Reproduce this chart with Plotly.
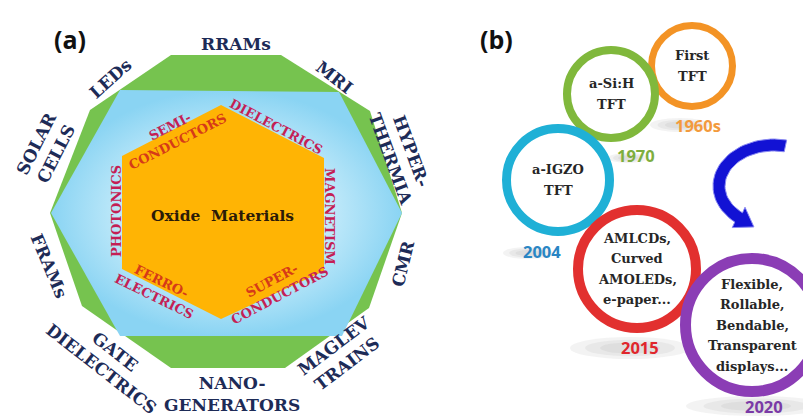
import math
import plotly.graph_objects as go

W, H = 811, 417

# ---------------- data (text content) ----------------
panel_labels = ["(a)", "(b)"]
core_label = "Oxide  Materials"
property_lines = [["SEMI-", "CONDUCTORS"], ["DIELECTRICS"], ["MAGNETISM"],
                  ["SUPER-", "CONDUCTORS"], ["FERRO-", "ELECTRICS"], ["PHOTONICS"]]
application_lines = [["RRAMs"], ["MRI"], ["HYPER-", "THERMIA"], ["CMR"],
                     ["MAGLEV", "TRAINS"], ["NANO-", "GENERATORS"],
                     ["GATE", "DIELECTRICS"], ["FRAMs"], ["SOLAR", "CELLS"], ["LEDs"]]
tft_milestones = [["First", "TFT"], ["a-Si:H", "TFT"], ["a-IGZO", "TFT"],
                  ["AMLCDs,", "Curved", "AMOLEDs,", "e-paper..."],
                  ["Flexible,", "Rollable,", "Bendable,", "Transparent", "displays..."]]
tft_years = ["1960s", "1970", "2004", "2015", "2020"]

# ---------------- layout / styles ----------------
NAVY = "#1d2b57"
CRIMSON = "#c41f55"
REDOR = "#d63a18"
SERIF = "DejaVu Serif"

outer_poly = [(163, 47), (273, 47), (362, 103), (394, 205), (361, 300), (277, 360),
              (163, 360), (74, 298), (42, 205), (82, 102)]
blue_poly = [(112, 82), (331, 84), (394, 205), (334, 328), (112, 328), (43, 205)]
hex_poly = [(213, 97), (316, 150), (316, 263), (213, 311), (114, 261), (114, 148)]

app_pos = [(228, 36, 0), (326, 69, 38), (393, 147, 70), (395, 256, -76), (332, 347, -37),
           (224, 386, 0), (100, 352, 38), (41, 258, 67), (38, 141, -63), (102, 71, -42)]
prop_pos = [(166, 126, -27), (268, 118, 28), (322, 208, 90), (268, 280, -28),
            (150, 281, 26), (108, 203, -90)]
prop_colors = [[CRIMSON, REDOR], [CRIMSON], [CRIMSON], [REDOR, CRIMSON],
               [REDOR, CRIMSON], [CRIMSON]]

ring_geom = [(684, 58, 44, 7), (603, 86, 48, 8), (550, 172, 56, 9),
             (629, 261, 64, 10), (744, 317, 72, 11)]
ring_colors = ["#f39325", "#80b83c", "#1fb0d6", "#e2302f", "#8b3db5"]
year_colors = ["#f39a3c", "#7eae3e", "#2a86c4", "#e0262c", "#7a3aa6"]
year_pos = [(690, 117), (628, 147), (534, 243), (632, 339), (756, 398)]
shadow_geom = [(672, 117, 60, 14), (620, 150, 40, 10), (520, 245, 50, 12),
               (622, 340, 120, 22), (748, 398, 140, 20)]

fig = go.Figure()


def add_poly(pts, fill, grad=None, line_color=None, line_width=0):
    xs = [p[0] for p in pts] + [pts[0][0]]
    ys = [p[1] for p in pts] + [pts[0][1]]
    kw = dict(x=xs, y=ys, mode="lines", fill="toself", fillcolor=fill,
              line=dict(width=line_width, color=line_color or fill),
              hoverinfo="skip", showlegend=False)
    if grad is not None:
        kw["fillgradient"] = grad
    fig.add_trace(go.Scatter(**kw))


# panel (a) shapes
add_poly(outer_poly, "#76c34f")
add_poly(blue_poly, "#9ad9f4",
         grad=dict(type="radial", colorscale=[[0, "#f2fbff"], [0.5, "#cdeefb"], [1, "#8ad4f3"]]))
add_poly(hex_poly, "#ffb404")

# curved blue arrow (panel b)
cx, cy = 766, 178
ro = (61, 47)
ri = (49, 35)
t0, t1 = 282, 130
n = 40
outer = []
inner = []
for i in range(n + 1):
    t = math.radians(t0 + (t1 - t0) * i / n)
    outer.append((cx + ro[0] * math.cos(t), cy + ro[1] * math.sin(t)))
    inner.append((cx + ri[0] * math.cos(t), cy + ri[1] * math.sin(t)))
te = math.radians(t1)
mx = cx + (ro[0] + ri[0]) / 2 * math.cos(te)
my = cy + (ro[1] + ri[1]) / 2 * math.sin(te)
dx, dy = (ro[0] + ri[0]) / 2 * math.sin(te), -(ro[1] + ri[1]) / 2 * math.cos(te)
L = math.hypot(dx, dy)
dx, dy = dx / L, dy / L
px, py = -dy, dx
head = [(mx + px * 12, my + py * 12), (mx + dx * 18, my + dy * 18), (mx - px * 12, my - py * 12)]
arrow_pts = outer + [head[0], head[1], head[2]] + inner[::-1]
ox, oy = outer[-1]
if math.hypot(head[0][0] - ox, head[0][1] - oy) > math.hypot(head[2][0] - ox, head[2][1] - oy):
    arrow_pts = outer + [head[2], head[1], head[0]] + inner[::-1]
add_poly(arrow_pts, "#1212d4", line_color="#8a8af2", line_width=1)

shapes = []
# soft shadows
for (sx, sy, sw, sh) in shadow_geom:
    for k, f in enumerate([1.0, 0.75, 0.5]):
        shapes.append(dict(type="circle", xref="x", yref="y", layer="below",
                           x0=sx - sw / 2 * f, x1=sx + sw / 2 * f,
                           y0=sy - sh / 2 * f, y1=sy + sh / 2 * f,
                           fillcolor="#9a9a9a", opacity=0.12, line=dict(width=0)))
# rings
for (rx, ry, r, w), col in zip(ring_geom, ring_colors):
    rr = r - w / 2
    shapes.append(dict(type="circle", xref="x", yref="y",
                       x0=rx - rr, x1=rx + rr, y0=ry - rr, y1=ry + rr,
                       fillcolor="white", line=dict(color=col, width=w)))

annotations = []


def ann(x, y, text, size, color, family=SERIF, angle=0, weight="bold"):
    annotations.append(dict(x=x, y=y, xref="x", yref="y", text=text, showarrow=False,
                            textangle=angle, xanchor="center", yanchor="middle",
                            borderpad=0,
                            font=dict(family=family, size=size, color=color, weight=weight)))


ann(62, 31, panel_labels[0], 25, "#111111", family="Open Sans")
ann(488, 31, panel_labels[1], 25, "#111111", family="Open Sans")
ann(214, 207, core_label, 15.5, "#2b1b08")

for lines, (x, y, a) in zip(application_lines, app_pos):
    ann(x, y, "<br>".join(lines), 17, NAVY, angle=a)

for lines, cols, (x, y, a) in zip(property_lines, prop_colors, prop_pos):
    txt = "<br>".join(f"<span style='color:{c}'>{t}</span>" for t, c in zip(lines, cols))
    ann(x, y, txt, 13, cols[0], angle=a)

for lines, (rx, ry, r, w) in zip(tft_milestones, ring_geom):
    nl = len(lines)
    lh = 20.5 if nl > 2 else 21
    for i, t in enumerate(lines):
        ann(rx, ry + (i - (nl - 1) / 2) * lh, t, 13, "#262626")

for yr, col, (x, y) in zip(tft_years, year_colors, year_pos):
    ann(x, y, yr, 16.5, col, family="Open Sans")

fig.update_layout(
    width=W, height=H, margin=dict(l=0, r=0, t=0, b=0),
    paper_bgcolor="white", plot_bgcolor="white",
    xaxis=dict(range=[0, W], visible=False, fixedrange=True),
    yaxis=dict(range=[H, 0], visible=False, fixedrange=True),
    shapes=shapes, annotations=annotations, showlegend=False,
)
fig.write_html("out.html")
